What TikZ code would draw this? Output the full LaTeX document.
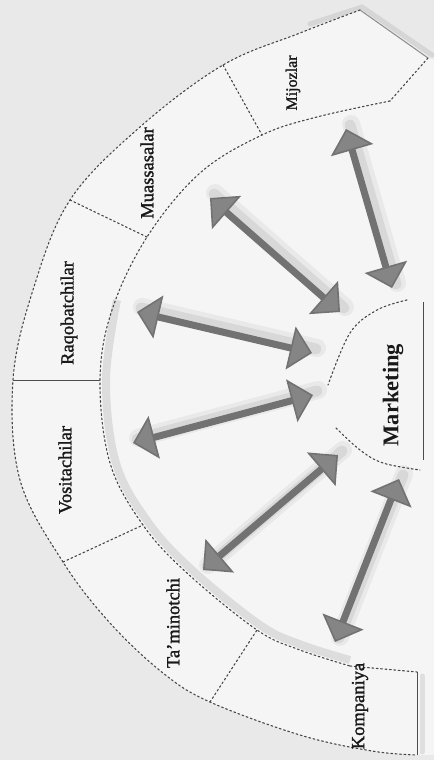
\documentclass[tikz,border=0pt]{standalone}
\usepackage{fontspec}
\setmainfont{Liberation Serif}
\newfontfamily\lblfont[FakeBold=1.4]{Liberation Serif}
\usetikzlibrary{arrows.meta}
\definecolor{bgcol}{HTML}{E9E9E9}
\definecolor{incol}{HTML}{F5F5F5}
\definecolor{arrcol}{HTML}{727272}
\definecolor{headfill}{HTML}{858585}
\tikzset{
  dotline/.style={draw=black!72, line width=1.1pt, dash pattern=on 1.8pt off 2.6pt, line cap=round},
  solidline/.style={draw=black!70, line width=1pt},
  lbl/.style={rotate=90, font=\lblfont\fontsize{18.5}{18.5}\selectfont, inner sep=0pt, text=black!90},
  bigarrow/.style={draw=arrcol, line width=7pt,
     {Triangle[width=44pt,length=22pt,fill=headfill,line width=1.6pt]}-{Triangle[width=44pt,length=22pt,fill=headfill,line width=1.6pt]}},
  shadeA/.style={draw=gray, line width=18pt, opacity=0.10, line cap=round},
  shadeB/.style={draw=gray, line width=11pt, opacity=0.16, line cap=round},
  edgeshade/.style={draw=gray, line width=5pt, opacity=0.18, line cap=round},
}
\newcommand\dblarrow[2]{%
  \draw[shadeA] ([shift={(5,-5)}]#1) -- ([shift={(5,-5)}]#2);
  \draw[shadeB] ([shift={(4,-4)}]#1) -- ([shift={(4,-4)}]#2);
  \draw[bigarrow] (#1) -- (#2);
}
\begin{document}
\begin{tikzpicture}[x=1pt,y=-1pt]
\useasboundingbox (0,0) rectangle (434,760);
\fill[bgcol] (0,0) rectangle (434,760);

% band end points and divider end points
\coordinate (topo) at (360,10);
\coordinate (topt) at (428,58);
\coordinate (topi) at (390,101);
\coordinate (boti) at (350,666);
\coordinate (botr) at (417,672);
\coordinate (boto) at (417,755);
\coordinate (mmo) at (223,65);  \coordinate (mmi) at (262,135);
\coordinate (rmo) at (70,200);  \coordinate (rmi) at (147,237);
\coordinate (rvo) at (13,380);  \coordinate (rvi) at (100,380);
\coordinate (vto) at (63,562);  \coordinate (vti) at (143,525);
\coordinate (tko) at (210,702); \coordinate (tki) at (257,630);

% light inside of the half disc
\fill[incol] plot[smooth,tension=0.6] coordinates {(360,10) (300,33) (223,65) (140,127) (70,200) (33,290) (13,380) (20,480) (63,562) (110,623) (163,673) (210,702) (300,735) (372,751) (417,755)}
  -- (434,755) -- (434,60) -- (topt) -- cycle;

% soft shadows at the band ends and along inner arc
\draw[edgeshade] (310,24) -- ([shift={(2,-3)}]topo) -- (432,55);
\draw[edgeshade] (422,676) -- (422,752);
\draw[draw=gray, line width=8pt, opacity=0.2] plot[smooth,tension=0.6] coordinates {(117,300) (106,380) (116,463) (148,522) (191,569) (260,625) (302,645) (350,660)};

% outer and inner arcs
\draw[dotline] plot[smooth,tension=0.6] coordinates {(360,10) (300,33) (223,65) (140,127) (70,200) (33,290) (13,380) (20,480) (63,562) (110,623) (163,673) (210,702) (300,735) (372,751) (417,755)};
\draw[dotline] plot[smooth,tension=0.6] coordinates {(390,101) (317,117) (262,135) (200,173) (147,237) (112,310) (100,380) (110,463) (143,525) (187,573) (257,630) (300,650) (350,666)};

% band ends
\draw[solidline, draw=black!45] (topo) -- (topt);
\draw[dotline] (topt) -- (topi);
\draw[dotline] (boti) -- (botr);
\draw[solidline] (botr) -- (boto);

% dividers
\draw[dotline] (mmo) -- (mmi);
\draw[dotline] (rmo) -- (rmi);
\draw[solidline] (rvo) -- (rvi);
\draw[dotline] (vto) -- (vti);
\draw[dotline] (tko) -- (tki);

% labels
\node[lbl, font=\lblfont\fontsize{16}{16}\selectfont] (mij) at (293,83) {Mijozlar};
\node[lbl] (mua) at (147,173) {Muassasalar};
\node[lbl] (raq) at (69,313) {Raqobatchilar};
\node[lbl] (vos) at (65,470) {Vositachilar};
\node[lbl] (tam) at (173,623) {Ta’minotchi};
\node[lbl] (kom) at (360,706) {Kompaniya};

% Marketing box
\draw[dotline] plot[smooth,tension=0.6] coordinates {(407,300) (377,310) (350,333) (328,385)};
\draw[dotline] plot[smooth,tension=0.6] coordinates {(336,428) (360,450) (383,463) (420,470)};
\draw[solidline] (423,302) -- (423,460);
\node[rotate=90, font=\bfseries\fontsize{22.5}{22.5}\selectfont, inner sep=0pt, text=black!90] (mkt) at (393,395) {Marketing};

% arrows
\coordinate (a1s) at (392,288); \coordinate (a1e) at (346,129);
\coordinate (a2s) at (340,312); \coordinate (a2e) at (210,198);
\coordinate (a3s) at (312,353); \coordinate (a3e) at (137,312);
\coordinate (a4s) at (313,395); \coordinate (a4e) at (133,443);
\coordinate (a5s) at (338,455); \coordinate (a5e) at (203,570);
\coordinate (a6s) at (399,479); \coordinate (a6e) at (335,642);
\dblarrow{a1s}{a1e}
\dblarrow{a2s}{a2e}
\dblarrow{a3s}{a3e}
\dblarrow{a4s}{a4e}
\dblarrow{a5s}{a5e}
\dblarrow{a6s}{a6e}
\end{tikzpicture}
\end{document}
